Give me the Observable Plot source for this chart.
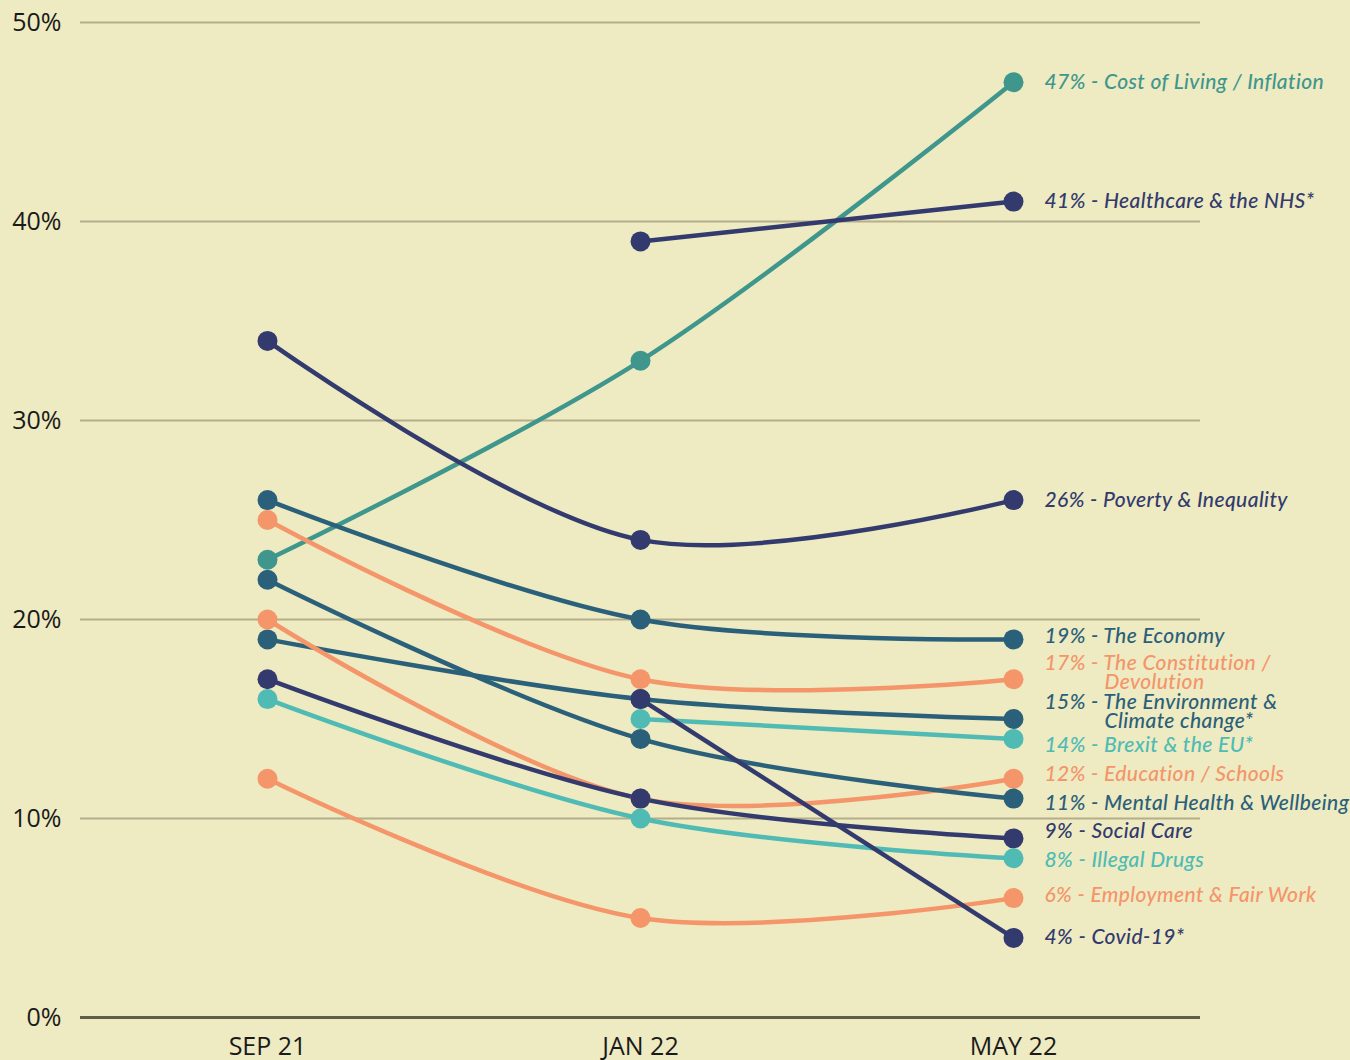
<!DOCTYPE html>
<html><head><meta charset="utf-8">
<script src="https://cdn.jsdelivr.net/npm/d3@7"></script>
<script src="https://cdn.jsdelivr.net/npm/@observablehq/plot@0.6"></script>
<style>
html,body{margin:0;padding:0;background:#eeeac1;}
#chart svg{display:block;overflow:visible;}
#chart g[aria-label="text"] text{font-family:Lato,sans-serif;font-style:italic;letter-spacing:0.4px;font-size:21px;}
</style></head><body><div id="chart"></div>
<script>
// ---- data ----
const periods = ["SEP 21", "JAN 22", "MAY 22"];
const topics = [
  "Cost of Living / Inflation",
  "Healthcare & the NHS*",
  "Poverty & Inequality",
  "The Economy",
  "The Constitution /\nDevolution",
  "The Environment &\nClimate change*",
  "Brexit & the EU*",
  "Education / Schools",
  "Mental Health & Wellbeing",
  "Social Care",
  "Illegal Drugs",
  "Employment & Fair Work",
  "Covid-19*"
];
const sep = [23, null, 34, 26, 25, 19, null, 20, 22, 17, 16, 12, null];
const jan = [33, 39, 24, 20, 17, 16, 15, 11, 14, 11, 10, 5, 16];
const may = [47, 41, 26, 19, 17, 15, 14, 12, 11, 9, 8, 6, 4];
const groups = ["teal", "navy", "navy", "petrol", "orange", "petrol", "aqua", "orange", "petrol", "navy", "aqua", "orange", "navy"];
const yTicks = [0, 10, 20, 30, 40, 50];

// ---- styles / layout ----
const palette = {teal: "#3f968c", navy: "#323a6e", petrol: "#2a6079", orange: "#f4956a", aqua: "#4fbbb4"};
// vertical pixel nudges for right-hand labels (to avoid overlap)
const labelNudge = [0, 0, 0, -3, -16, -17, 6, -4, 5, -7, 2, -3, -1];
const contNudge = 19;   // second line offset
const contIndent = 60;  // second line indent
const labelStyle = {fontSize: 21, fontStyle: "italic", fontWeight: 500, textAnchor: "start"};

const data = topics.flatMap((t, i) =>
  [sep[i], jan[i], may[i]].map((v, j) => ({topic: t, period: periods[j], value: v, group: groups[i]}))
    .filter(d => d.value != null));

const lastPts = topics.map((t, i) => ({topic: t, period: periods[2], value: may[i], group: groups[i], i}));

const labelMarks = lastPts.flatMap(d => {
  const lines = d.topic.split("\n");
  const col = palette[d.group];
  const marks = [Plot.text([d], {
    x: "period", y: "value", text: () => `${d.value}% - ${lines[0]}`,
    fill: col, dx: 31, dy: labelNudge[d.i], ...labelStyle
  })];
  lines.slice(1).forEach((l, k) => marks.push(Plot.text([d], {
    x: "period", y: "value", text: () => l,
    fill: col, dx: 31 + contIndent, dy: labelNudge[d.i] + contNudge * (k + 1), ...labelStyle
  })));
  return marks;
});

const chart = Plot.plot({
  width: 1350,
  height: 1060,
  marginLeft: 80,
  marginRight: 150,
  marginTop: 22,
  marginBottom: 43,
  style: {background: "transparent", fontFamily: "'Open Sans', sans-serif", color: "#1a1a1a"},
  x: {type: "point", domain: periods, padding: 0.5, label: null},
  y: {domain: [0, 50], label: null},
  color: {domain: Object.keys(palette), range: Object.values(palette)},
  marks: [
    Plot.ruleY(yTicks.filter(v => v > 0), {stroke: "#b3ae8c", strokeWidth: 2.2}),
    Plot.ruleY([0], {stroke: "#5f5e48", strokeWidth: 3}),
    Plot.axisY(yTicks, {tickSize: 0, tickPadding: 19, fontSize: 25, tickFormat: d => d + "%", label: null, fill: "#1a1a1a"}),
    Plot.axisX({tickSize: 0, tickPadding: 20, fontSize: 25, label: null, fill: "#1a1a1a"}),
    Plot.line(data, {x: "period", y: "value", z: "topic", stroke: "group", strokeWidth: 4.5, curve: "catmull-rom"}),
    Plot.dot(data, {x: "period", y: "value", fill: "group", r: 10}),
    ...labelMarks
  ]
});
document.getElementById("chart").appendChild(chart);
</script>
</body></html>
